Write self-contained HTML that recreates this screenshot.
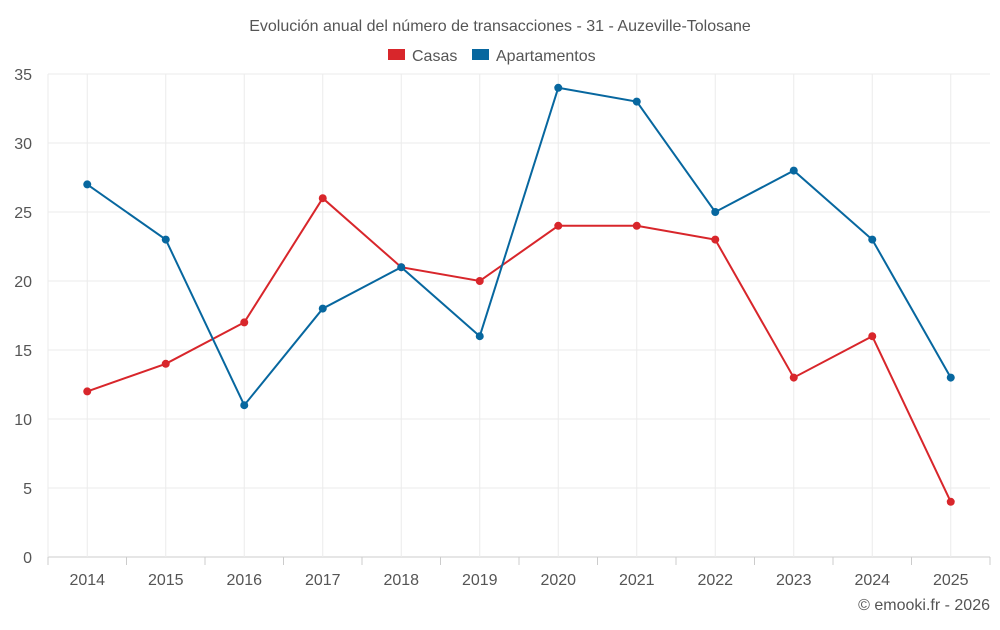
<!DOCTYPE html>
<html><head><meta charset="utf-8"><style>
body{margin:0;background:#fff;font-family:"Liberation Sans",sans-serif}
svg text{font-family:"Liberation Sans",sans-serif}
</style></head><body>
<svg id="chart" width="1000" height="625" xmlns="http://www.w3.org/2000/svg">
<text x="500" y="31" text-anchor="middle" font-size="16" fill="#555">Evolución anual del número de transacciones - 31 - Auzeville-Tolosane</text>
<g>
<g><rect x="388" y="49" width="17" height="11" fill="#d8262b"/><text x="412" y="61" font-size="16" fill="#555">Casas</text></g>
<g><rect x="472" y="49" width="17" height="11" fill="#07679f"/><text x="496" y="61" font-size="16" fill="#555">Apartamentos</text></g>
</g>
<g id="grid"></g>
<g id="axes"></g>
<g id="series"></g>
<text x="990" y="610" text-anchor="end" font-size="16" fill="#555">© emooki.fr - 2026</text>
</svg>
<script>
const years=["2014","2015","2016","2017","2018","2019","2020","2021","2022","2023","2024","2025"];
const casas=[12,14,17,26,21,20,24,24,23,13,16,4];
const apartamentos=[27,23,11,18,21,16,34,33,25,28,23,13];
const yTicks=[0,5,10,15,20,25,30,35];
const NS="http://www.w3.org/2000/svg";
const L=48,R=990,T=74,B=557,yMax=35;
const bw=(R-L)/years.length;
const x=i=>L+bw*(i+0.5);
const y=v=>B-(v/yMax)*(B-T);
function mk(t,a,p){const e=document.createElementNS(NS,t);for(const k in a)e.setAttribute(k,a[k]);p.appendChild(e);return e;}
const grid=document.getElementById('grid'),axes=document.getElementById('axes'),ser=document.getElementById('series');
yTicks.forEach(v=>{
 const l=mk('line',{x1:L,x2:R,y1:y(v),y2:y(v),stroke:v===0?'#ccc':'#ebebeb','stroke-width':1},grid);
 
 
 const t=mk('text',{x:L-16,y:y(v)+6,'text-anchor':'end','font-size':16,fill:'#555'},axes);
 t.textContent=v;
 
 
});
mk('line',{x1:L,x2:L,y1:T,y2:B,stroke:'#ebebeb'},grid);
years.forEach((yr,i)=>{
 const l=mk('line',{x1:x(i),x2:x(i),y1:T,y2:B,stroke:'#ebebeb'},grid);
 
 
 const tk=mk('line',{x1:L+bw*i,x2:L+bw*i,y1:B,y2:B+8,stroke:'#ccc'},axes);
 
 
 const t=mk('text',{x:x(i),y:585,'text-anchor':'middle','font-size':16,fill:'#555'},axes);
 t.textContent=yr;
 
 
});
mk('line',{x1:R,x2:R,y1:B,y2:B+8,stroke:'#ccc'},axes);
function draw(vals,color,name){
 const p=mk('polyline',{points:vals.map((v,i)=>x(i)+','+y(v)).join(' '),fill:'none',stroke:color,'stroke-width':2},ser);
 
 
 vals.forEach((v,i)=>{
  const c=mk('circle',{cx:x(i),cy:y(v),r:4,fill:color},ser);
  
  
 });
}
draw(casas,'#d8262b','casas');
draw(apartamentos,'#07679f','apartamentos');
</script>
</body></html>
